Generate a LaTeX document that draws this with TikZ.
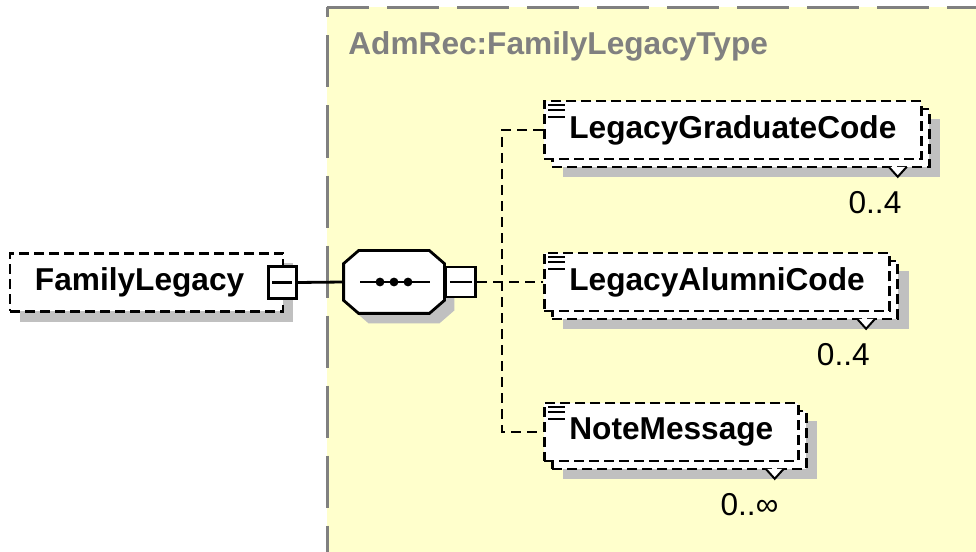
\documentclass[tikz,border=0pt]{standalone}
\usepackage{fontspec}
\setmainfont{Liberation Sans}
\usetikzlibrary{positioning,shadows}

\definecolor{typefill}{RGB}{255,255,204}
\definecolor{framegray}{RGB}{128,128,128}
\definecolor{shadowgray}{RGB}{192,192,192}

\begin{document}
\begin{tikzpicture}[
  x=0.25mm,y=-0.25mm,
  line width=0.7mm,
  namefont/.style={font=\fontsize{22.5}{27}\selectfont\bfseries},
  countfont/.style={font=\fontsize{22.5}{27}\selectfont},
  typeline/.style={draw=framegray,line width=0.75mm,dash pattern=on 13mm off 4.5mm},
  elem/.style={draw,fill=white,dash pattern=on 2.5mm off 1.25mm,minimum height=14.5mm,inner xsep=6.25mm,namefont},
  single/.style={elem,general shadow={fill=shadowgray,shadow xshift=2.5mm,shadow yshift=-2.5mm}},
  multi/.style={elem,
    general shadow={fill=shadowgray,shadow xshift=4.75mm,shadow yshift=-4.5mm},
    general shadow={draw=black,fill=white,shadow xshift=2mm,shadow yshift=-2mm}},
  seqslot/.style={minimum width=24.5mm,minimum height=15mm,inner sep=0pt},
  seqline/.style={draw,solid,fill=white,general shadow={fill=shadowgray,shadow xshift=2.5mm,shadow yshift=-2.5mm}},
  minusbox/.style={draw,solid,fill=white,minimum width=7.5mm,minimum height=7.5mm,inner sep=0pt,
    path picture={\draw ([xshift=1mm]path picture bounding box.west) -- ([xshift=-1mm]path picture bounding box.east);}},
  count/.style={countfont,inner sep=0pt},
  link/.style={draw,solid},
  dlink/.style={draw,dash pattern=on 2.5mm off 1.5mm}
]
\path[use as bounding box,clip] (0,0) rectangle (976,552);

% complex type area
\fill[typefill] (327,7.5) rectangle (1000,580);
\draw[typeline,dash phase=2.5mm] (327,7.5) -- (1000,7.5);
\draw[typeline,dash phase=10.5mm] (327,7.5) -- (327,580);
\node[namefont,text=framegray,inner sep=0pt,anchor=base west] (title) at (347,55) {AdmRec:FamilyLegacyType};

% root element and sequence
\node[single,text width=55.75mm,align=left] (fam) at (146.5,282.5) {FamilyLegacy};
\node[minusbox,minimum width=7mm,minimum height=8mm] (famminus) at ([xshift=-0.5mm]fam.east) {};
\node[seqslot] (seq) at (394,282) {};
\path[seqline] ([xshift=3.75mm]seq.north west) -- ([xshift=-3.75mm]seq.north east)
  -- ([yshift=-3.25mm]seq.north east) -- ([yshift=3.25mm]seq.south east)
  -- ([xshift=-3.75mm]seq.south east) -- ([xshift=3.75mm]seq.south west)
  -- ([yshift=3.25mm]seq.south west) -- ([yshift=-3.25mm]seq.north west) -- cycle;
\node[minusbox,right=0pt of seq] (seqminus) {};
\draw[link] ([xshift=-8.5mm]seq.center) -- ([xshift=9mm]seq.center);
\foreach \dx in {-3.5,0,3.5}
  \fill ([xshift=\dx mm]seq.center) circle (1.1mm);

% child elements
\node[multi,anchor=west] (grad) at (543,130) {LegacyGraduateCode};
\node[multi,anchor=west] (alumni) at (543,282) {LegacyAlumniCode};
\node[multi,anchor=west] (note) at (543,432) {NoteMessage};

\foreach \n in {grad,alumni,note} {
  \filldraw[fill=white,solid,line width=0.5mm] ([xshift=-8.5mm,yshift=-1.6mm]\n.south east) -- ++(2.25mm,-2.5mm) -- ++(2.25mm,2.5mm);
  \foreach \dy in {1.25,2.5,4.25}
    \draw[solid,line width=0.5mm] ([xshift=1.25mm,yshift=-\dy mm]\n.north west) -- ++(4.25mm,0);
}

\node[count,below left=7.5mm and 5mm of grad.south east] (gradcount) {0..4};
\node[count,below left=7.5mm and 5mm of alumni.south east] (alumnicount) {0..4};
\node[count,below left=7.5mm and 5mm of note.south east] (notecount) {0..∞};

% connectors
\coordinate (split) at (502,282);
\draw[link] (famminus.east) -- (seq.west);
\draw[dlink] (seqminus.east) -- (alumni.west);
\draw[dlink] (grad.west) -| (split) |- (note.west);
\end{tikzpicture}
\end{document}
